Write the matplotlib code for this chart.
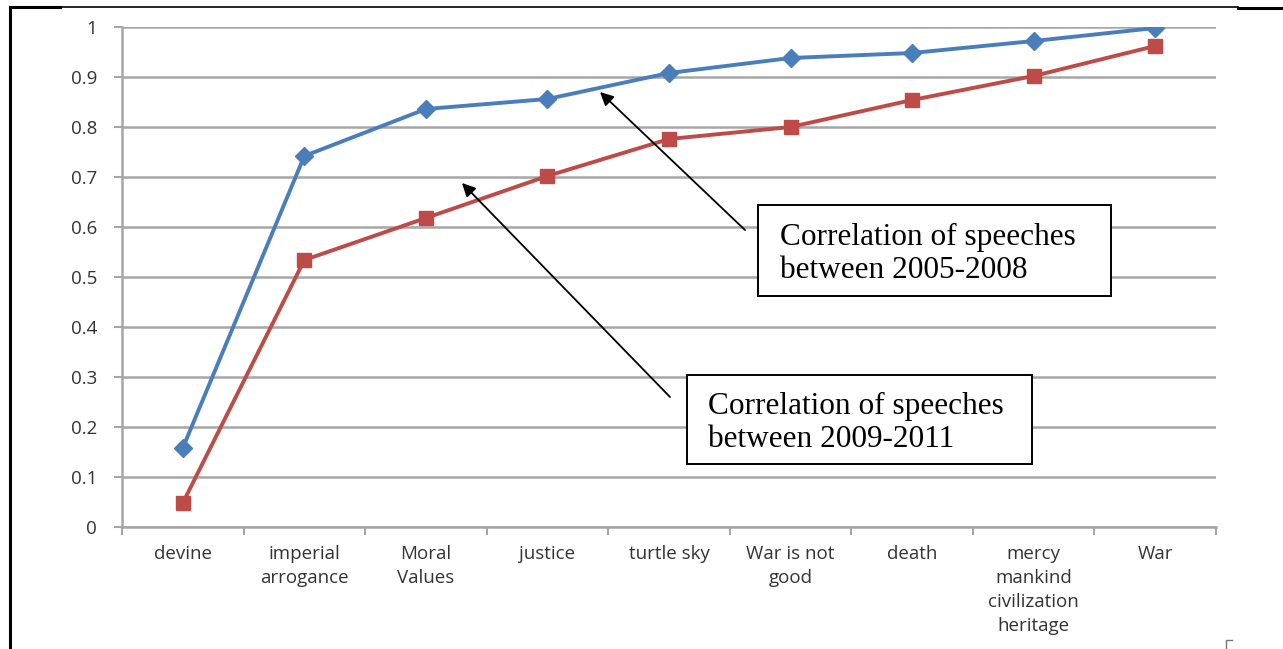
import matplotlib.pyplot as plt
from matplotlib.lines import Line2D
from matplotlib.patches import Rectangle, FancyArrowPatch
import numpy as np

# keyword categories and correlation values for the two periods
categories = ["devine", "imperial\narrogance", "Moral\nValues", "justice", "turtle sky",
              "War is not\ngood", "death", "mercy\nmankind\ncivilization\nheritage", "War"]
corr_2005_2008 = [0.158, 0.742, 0.836, 0.856, 0.908, 0.938, 0.948, 0.972, 0.998]
corr_2009_2011 = [0.048, 0.534, 0.618, 0.702, 0.776, 0.800, 0.854, 0.902, 0.962]
yticks = [0, 0.1, 0.2, 0.3, 0.4, 0.5, 0.6, 0.7, 0.8, 0.9, 1]
ytick_labels = ["0", "0.1", "0.2", "0.3", "0.4", "0.5", "0.6", "0.7", "0.8", "0.9", "1"]

W, H = 1283, 649
fig = plt.figure(figsize=(W / 100, H / 100), dpi=100)
# axes box in pixel terms: left 122, right 1216, top 27, bottom 527
ax = fig.add_axes([122 / W, 1 - 527 / H, (1216 - 122) / W, (527 - 27) / H])


def fx(px):
    return px / W


def fy(py):
    return 1 - py / H


x = np.arange(len(categories))
blue = "#4a7ebb"
red = "#be4b48"
ax.plot(x, corr_2005_2008, color=blue, lw=2.8, marker="D", ms=9, mfc=blue, mec=blue, zorder=3)
ax.plot(x, corr_2009_2011, color=red, lw=2.8, marker="s", ms=10, mfc=red, mec=red, zorder=3)

ax.set_xlim(-0.5, len(categories) - 0.5)
ax.set_ylim(0, 1)
ax.set_yticks(yticks)
ax.set_yticklabels(ytick_labels)
ax.set_xticks(np.arange(-0.5, len(categories), 1.0))
ax.set_xticks(x, minor=True)
ax.set_xticklabels([])
ax.set_xticklabels(categories, minor=True)

grid_col = "#a6a6a6"
ax.grid(axis="y", color=grid_col, lw=1.8, zorder=0)
for s in ["top", "right"]:
    ax.spines[s].set_visible(False)
ax.spines["left"].set_color(grid_col)
ax.spines["bottom"].set_color(grid_col)
ax.spines["left"].set_linewidth(1.8)
ax.spines["bottom"].set_linewidth(1.8)
ax.tick_params(axis="y", length=6, width=1.5, color=grid_col, labelsize=13.5,
               labelcolor="#333333", pad=12)
ax.tick_params(axis="x", which="major", length=6, width=1.5, color=grid_col)
ax.tick_params(axis="x", which="minor", length=0, labelsize=13.5, labelcolor="#333333", pad=13)
for lab in ax.get_yticklabels() + ax.get_xticklabels(minor=True):
    lab.set_family("Open Sans")
for lab in ax.get_xticklabels(minor=True):
    lab.set_linespacing(1.42)

# callout boxes (pixel positions) with arrows pointing to each series
callouts = [
    ("Correlation of speeches\nbetween 2005-2008", (758, 205, 1111, 296), (780, 254), (745, 230), (600, 92)),
    ("Correlation of speeches\nbetween 2009-2011", (687, 375, 1032, 464), (708, 423), (670, 397), (462, 183)),
]
for text, (x0, y0, x1, y1), (tx, ty), (ax0, ay0), (ax1, ay1) in callouts:
    fig.add_artist(Rectangle((fx(x0), fy(y1)), fx(x1) - fx(x0), fy(y0) - fy(y1),
                             transform=fig.transFigure, fc="white", ec="black", lw=1.4, zorder=5))
    fig.text(fx(tx), fy(ty), text, fontsize=22.5, family="Liberation Serif",
             ha="left", va="center", linespacing=1.18, zorder=6)
    fig.add_artist(FancyArrowPatch(
        (fx(ax0), fy(ay0)), (fx(ax1), fy(ay1)), transform=fig.transFigure,
        arrowstyle="-|>", color="black", lw=1.3, mutation_scale=20, shrinkA=0, shrinkB=0, zorder=4))

# page frame lines around the figure
fig.add_artist(Line2D([fx(10), fx(10)], [0, fy(7)], color="black", lw=2.2))
fig.add_artist(Line2D([fx(10), fx(1238)], [fy(7), fy(7)], color="black", lw=1.2))
fig.add_artist(Line2D([fx(10), fx(60)], [fy(7), fy(7)], color="black", lw=2.2))
fig.add_artist(Line2D([fx(1238), 1.0], [fy(8), fy(8)], color="black", lw=2.2))
fig.add_artist(Line2D([fx(1226), fx(1226), fx(1232)], [fy(648), fy(640), fy(640)],
                      color="#777777", lw=1))

fig.savefig("out.png", dpi=100)
